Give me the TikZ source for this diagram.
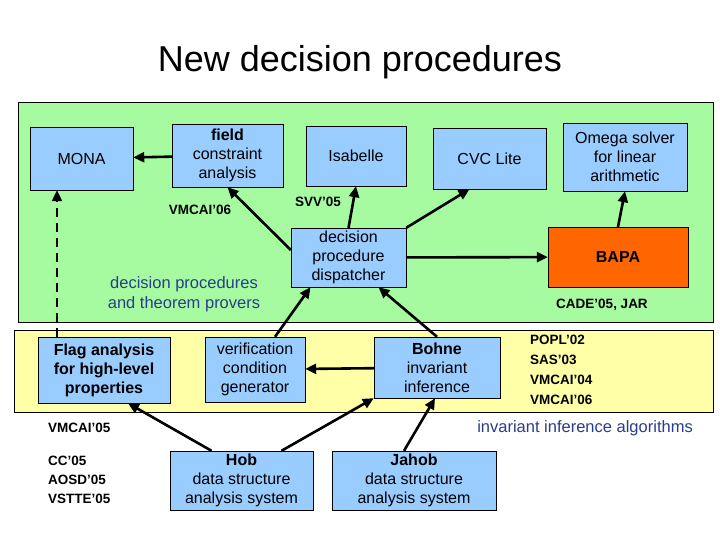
\documentclass[tikz,border=0pt]{standalone}
\usepackage{fontspec}
\setmainfont{Liberation Sans}
\usetikzlibrary{arrows.meta}
\definecolor{bbox}{HTML}{99CCFF}
\definecolor{gbg}{HTML}{A6FBA0}
\definecolor{ybg}{HTML}{FFFFA8}
\definecolor{orng}{HTML}{FF6600}
\definecolor{lbl}{HTML}{2A3C8C}
\begin{document}
\begin{tikzpicture}[x=1pt,y=-1pt,
  box/.style={draw=black,fill=bbox,align=center,font=\fontsize{16}{19}\selectfont,inner sep=0pt},
  arr/.style={-{Triangle[length=11pt,width=10pt]},line width=2.6pt},
  pub/.style={font=\bfseries\fontsize{13.5}{16}\selectfont,inner sep=0pt}]
\useasboundingbox (0,0) rectangle (720,540);
\fill[white] (0,0) rectangle (720,540);
\node[font=\fontsize{36}{40}\selectfont] (title) at (360,62) {New decision procedures};
\draw[fill=gbg] (18,102) rectangle (713,322);
\draw[fill=ybg] (14,330) rectangle (713,412);
\node[box,minimum width=103,minimum height=63] (mona) at (81.5,158.5) {MONA};
\node[box,minimum width=111,minimum height=63] (field) at (227.5,155.5) {\textbf{field}\\constraint\\analysis};
\node[box,minimum width=100,minimum height=60] (isa) at (356,156) {Isabelle};
\node[box,minimum width=113,minimum height=61] (cvc) at (489.5,158.5) {CVC Lite};
\node[box,minimum width=124,minimum height=68] (omega) at (625,157) {Omega solver\\for linear\\arithmetic};
\node[box,minimum width=115,minimum height=59] (disp) at (348.5,257.5) {decision\\procedure\\dispatcher};
\node[box,fill=orng,minimum width=140,minimum height=60,font=\bfseries\fontsize{16}{19}\selectfont] (bapa) at (618,257) {BAPA};
\node[box,minimum width=132,minimum height=66,font=\bfseries\fontsize{16}{19}\selectfont] (flag) at (104,370) {Flag analysis\\for high-level\\properties};
\node[box,minimum width=100,minimum height=65] (vc) at (255,369.5) {verification\\condition\\generator};
\node[box,minimum width=126,minimum height=61] (bohne) at (437,367.5) {\textbf{Bohne}\\invariant\\inference};
\node[box,minimum width=143,minimum height=59] (hob) at (241.5,480.5) {\textbf{Hob}\\data structure\\analysis system};
\node[box,minimum width=164,minimum height=59] (jahob) at (414,480.5) {\textbf{Jahob}\\data structure\\analysis system};
\node[pub] (l1) at (200,210) {VMCAI'06};
\node[pub] (l2) at (318,202) {SVV'05};
\node[align=center,text=lbl,font=\fontsize{16.5}{20}\selectfont] (l3) at (184,294) {decision procedures\\and theorem provers};
\node[pub] (l4) at (602,305) {CADE'05, JAR};
\node[pub,anchor=north west,align=left,font=\bfseries\fontsize{13.5}{20}\selectfont] (l5) at (530,335) {POPL'02\\SAS'03\\VMCAI'04\\VMCAI'06};
\node[pub,anchor=west] (l6) at (48,428) {VMCAI'05};
\node[text=lbl,font=\fontsize{16.5}{20}\selectfont,anchor=east,inner sep=0pt] (l7) at (693,428) {invariant inference algorithms};
\node[pub,anchor=north west,align=left,font=\bfseries\fontsize{13.5}{19}\selectfont] (l8) at (48,456) {CC'05\\AOSD'05\\VSTTE'05};
\draw[arr] (field) -- (mona);
\draw[arr] (disp.west|-0,250) -- (field.south);
\draw[arr] (disp.north) -- (isa.south);
\draw[arr] (disp.north east) -- ([xshift=-20]cvc.south);
\draw[arr] (disp) -- (bapa);
\draw[arr] (bapa.north) -- (omega.south);
\draw[arr] ([xshift=20]vc.north) -- ([xshift=-38]disp.south);
\draw[arr] (bohne.north) -- ([xshift=30]disp.south);
\draw[arr] (bohne) -- (vc);
\draw[arr] ([xshift=-30]hob.north) -- ([xshift=24]flag.south);
\draw[arr] ([xshift=40]hob.north) -- (bohne.south west);
\draw[arr] ([xshift=-10]jahob.north) -- ([xshift=-2]bohne.south);
\draw[arr,dash pattern=on 9pt off 6pt,line width=2.2pt] ([xshift=-47]flag.north) -- (mona.south-|57,0);
\end{tikzpicture}
\end{document}
